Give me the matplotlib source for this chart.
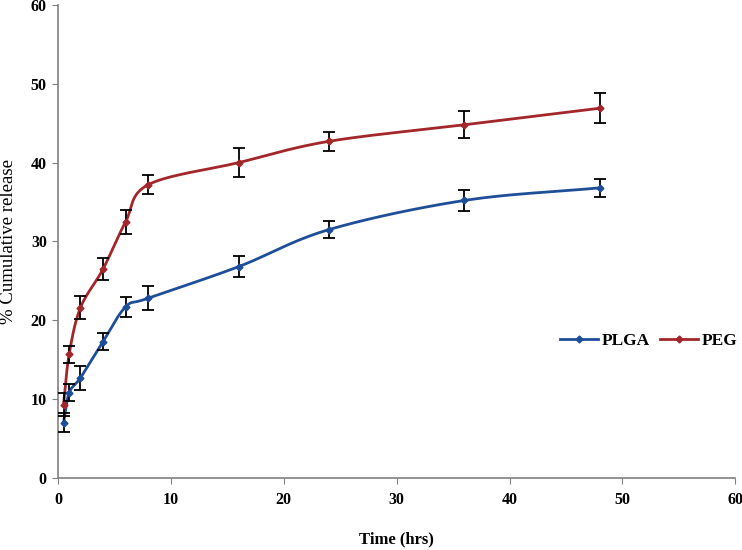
import numpy as np
import matplotlib
matplotlib.use("Agg")
import matplotlib.pyplot as plt

# === Data ===
time_hrs = [0.5, 1, 2, 4, 6, 8, 16, 24, 36, 48]
plga = [7.0, 10.8, 12.7, 17.3, 21.7, 22.8, 26.8, 31.5, 35.2, 36.8]
plga_err = [1.2, 1.1, 1.5, 1.1, 1.3, 1.5, 1.3, 1.1, 1.3, 1.1]
peg = [9.3, 15.7, 21.6, 26.5, 32.5, 37.2, 40.0, 42.7, 44.8, 46.9]
peg_err = [1.5, 1.1, 1.5, 1.4, 1.5, 1.2, 1.8, 1.2, 1.7, 1.9]

BLUE = "#1f4e99"
RED = "#a3262a"


def smooth(x, y, n=30):
    # Catmull-Rom curve through the points, like Excel's smoothed line
    x = np.asarray(x, float)
    y = np.asarray(y, float)
    px = np.concatenate([[2 * x[0] - x[1]], x, [2 * x[-1] - x[-2]]])
    py = np.concatenate([[2 * y[0] - y[1]], y, [2 * y[-1] - y[-2]]])
    xs, ys = [], []
    t = np.linspace(0, 1, n)
    for i in range(1, len(px) - 2):
        for p, out in ((px, xs), (py, ys)):
            p0, p1, p2, p3 = p[i - 1], p[i], p[i + 1], p[i + 2]
            seg = 0.5 * ((2 * p1) + (-p0 + p2) * t
                         + (2 * p0 - 5 * p1 + 4 * p2 - p3) * t ** 2
                         + (-p0 + 3 * p1 - 3 * p2 + p3) * t ** 3)
            out.extend(seg)
    return np.array(xs), np.array(ys)


plt.rcParams['font.family'] = ['Liberation Serif', 'DejaVu Serif']

fig = plt.figure(figsize=(7.42, 5.50), dpi=100)
ax = fig.add_axes([0.078, 0.131, 0.913, 0.860])

for vals, errs, col, name in ((plga, plga_err, BLUE, "PLGA"), (peg, peg_err, RED, "PEG")):
    sx, sy = smooth(time_hrs, vals)
    ax.plot(sx, sy, color=col, linewidth=2, zorder=2)
    ax.errorbar(time_hrs, vals, yerr=errs, fmt='none', ecolor='black',
                elinewidth=1.3, capsize=4, capthick=1.3, zorder=3)
    ax.plot(time_hrs, vals, linestyle='none', marker='D', markersize=3.5,
            color=col, zorder=4)
    ax.plot([], [], color=col, linewidth=2, marker='D', markersize=3.5, label=name)

ax.set_xlim(0, 60)
ax.set_ylim(0, 60)
ax.set_xticks(range(0, 61, 10))
ax.set_yticks(range(0, 61, 10))
for s in ('top', 'right'):
    ax.spines[s].set_visible(False)
for s in ('left', 'bottom'):
    ax.spines[s].set_color('#808080')
    ax.spines[s].set_linewidth(1.2)
ax.tick_params(direction='out', length=4, color='#808080', labelsize=11.5)
ax.tick_params(axis='x', pad=6)
ax.tick_params(axis='y', pad=4)
for lab in ax.get_xticklabels() + ax.get_yticklabels():
    lab.set_fontweight('bold')

ax.set_xlabel("Time (hrs)", fontsize=12, fontweight='bold')
ax.xaxis.set_label_coords(0.5, -0.112)
ax.set_ylabel("% Cumulative release", fontsize=13.5)
ax.yaxis.set_label_coords(-0.060, 0.5)

ax.legend(loc='center', bbox_to_anchor=(0.872, 0.29), ncol=2, frameon=False,
          prop={'weight': 'bold', 'size': 12.5}, handlelength=2.2,
          handletextpad=0.2, columnspacing=0.6)

fig.savefig("out.png", dpi=100)
